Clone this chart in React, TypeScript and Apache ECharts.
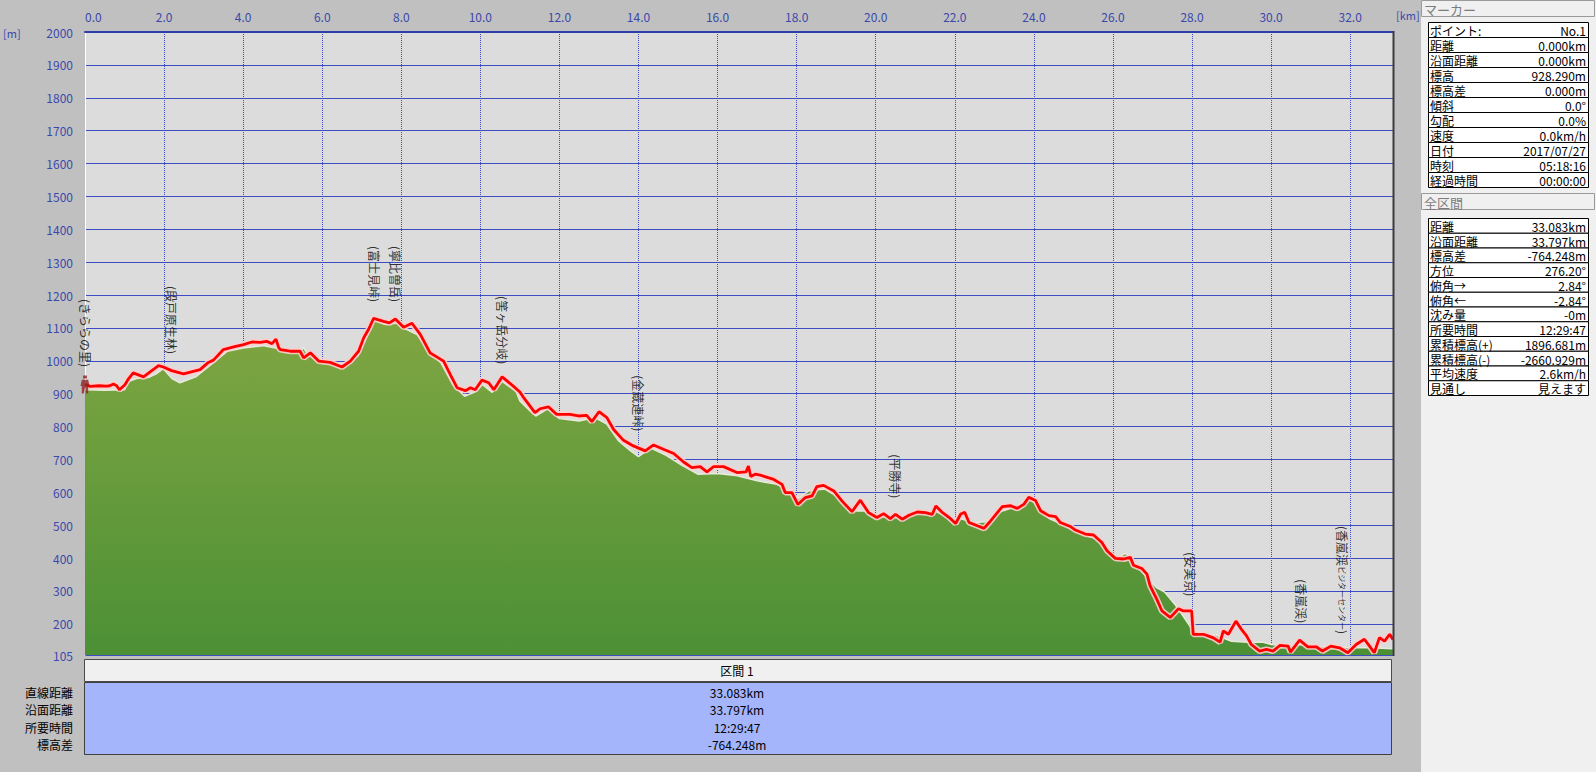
import React, { useEffect, useRef } from 'react';
import * as echarts from 'echarts';

// ---- track (GPS) elevation profile ----
const trackKm = [
  0.00, 0.13, 0.35, 0.55, 0.63, 0.72, 0.80, 0.87, 1.01, 1.10, 1.22, 1.35, 1.48, 1.69, 1.86, 1.98,
  2.19, 2.49, 2.74, 2.91, 3.12, 3.25, 3.50, 3.76, 4.01, 4.22, 4.43, 4.60, 4.73, 4.83, 4.90, 4.94,
  5.19, 5.44, 5.53, 5.70, 5.91, 6.20, 6.50, 6.71, 6.92, 7.05, 7.17, 7.30, 7.55, 7.70, 7.85, 8.06,
  8.27, 8.48, 8.73, 9.07, 9.24, 9.41, 9.62, 9.75, 9.87, 10.04, 10.21, 10.34, 10.55, 10.84, 11.00, 11.10,
  11.38, 11.51, 11.72, 11.93, 12.27, 12.48, 12.69, 12.82, 13.00, 13.20, 13.37, 13.62, 13.87, 14.17, 14.38, 14.63,
  14.89, 15.14, 15.35, 15.56, 15.73, 15.90, 16.15, 16.49, 16.72, 16.78, 16.84, 16.95, 17.08, 17.42, 17.63, 17.71,
  17.88, 18.03, 18.22, 18.39, 18.51, 18.68, 18.94, 19.15, 19.40, 19.61, 19.82, 20.03, 20.20, 20.37, 20.50, 20.67,
  20.84, 21.05, 21.26, 21.43, 21.52, 21.69, 21.86, 22.02, 22.15, 22.25, 22.36, 22.57, 22.74, 22.87, 23.08, 23.20,
  23.41, 23.58, 23.75, 23.87, 24.04, 24.17, 24.38, 24.55, 24.67, 24.92, 25.05, 25.30, 25.51, 25.72, 25.85, 26.06,
  26.27, 26.44, 26.52, 26.73, 26.86, 26.94, 27.11, 27.24, 27.45, 27.66, 27.78, 27.99, 28.03, 28.29, 28.54, 28.71,
  28.79, 28.92, 29.11, 29.25, 29.38, 29.50, 29.71, 29.88, 30.05, 30.22, 30.43, 30.49, 30.72, 30.93, 31.14, 31.30,
  31.51, 31.73, 31.94, 32.15, 32.36, 32.49, 32.61, 32.74, 32.87, 33.00, 33.08,
];
const trackElev = [
  928, 922, 924, 923, 924, 929, 924, 912, 927, 945, 963, 957, 951, 970, 985, 981,
  970, 960, 968, 973, 995, 1002, 1034, 1042, 1049, 1057, 1056, 1059, 1052, 1066, 1040, 1034,
  1029, 1029, 1009, 1024, 999, 995, 981, 999, 1029, 1070, 1095, 1129, 1120, 1115, 1127, 1102,
  1114, 1080, 1024, 999, 958, 918, 909, 918, 912, 941, 933, 912, 951, 922, 905, 887,
  842, 854, 860, 837, 837, 832, 834, 815, 845, 827, 791, 758, 741, 726, 744, 731,
  718, 692, 675, 678, 662, 678, 678, 660, 662, 680, 648, 655, 652, 639, 624, 599,
  599, 563, 584, 589, 617, 621, 604, 573, 541, 576, 538, 523, 535, 520, 533, 518,
  530, 540, 538, 533, 558, 538, 523, 505, 534, 539, 508, 498, 490, 508, 539, 556,
  559, 551, 564, 585, 575, 544, 529, 526, 508, 496, 485, 473, 470, 447, 422, 399,
  397, 402, 378, 368, 351, 315, 274, 239, 219, 246, 239, 239, 168, 168, 157, 144,
  178, 168, 208, 183, 163, 137, 117, 122, 117, 134, 132, 114, 150, 130, 130, 117,
  132, 127, 112, 137, 153, 132, 112, 158, 147, 168, 152,
];

// ---- terrain (map) elevation profile ----
const terrainKm = [
  0.00, 0.50, 1.00, 1.10, 1.30, 1.60, 1.80, 1.98, 2.20, 2.40, 2.80, 3.20, 3.60, 4.00, 4.50, 5.00,
  5.45, 5.53, 5.60, 6.00, 6.50, 6.90, 7.10, 7.30, 7.60, 7.90, 8.10, 8.40, 8.70, 9.00, 9.30, 9.60,
  9.90, 10.05, 10.30, 10.55, 10.90, 11.00, 11.27, 11.40, 11.70, 12.00, 12.50, 12.90, 13.20, 13.50, 13.80, 14.00,
  14.30, 14.70, 15.10, 15.50, 16.00, 16.50, 17.00, 17.50, 17.90, 18.05, 18.30, 18.70, 19.00, 19.40, 19.70, 20.00,
  20.50, 21.00, 21.50, 22.00, 22.15, 22.50, 22.80, 23.10, 23.50, 23.90, 24.10, 24.40, 24.80, 25.20, 25.60, 25.90,
  26.10, 26.30, 26.45, 26.60, 26.90, 27.10, 27.30, 27.60, 27.80, 28.00, 28.30, 28.60, 29.00, 29.40, 29.80, 30.00,
  30.40, 30.80, 31.20, 31.60, 32.00, 32.50, 33.08,
];
const terrainElev = [
  912, 910, 912, 937, 946, 949, 960, 976, 946, 933, 951, 990, 1029, 1039, 1046, 1034,
  1029, 1040, 1025, 1004, 989, 1014, 1064, 1123, 1110, 1115, 1097, 1080, 1029, 994, 928, 892,
  907, 928, 904, 937, 907, 878, 846, 832, 854, 824, 817, 827, 807, 756, 726, 708,
  735, 712, 682, 655, 657, 650, 635, 624, 599, 581, 604, 610, 589, 543, 543, 528,
  523, 533, 543, 513, 519, 508, 510, 539, 554, 580, 559, 519, 498, 473, 458, 427,
  397, 414, 405, 376, 336, 310, 297, 254, 219, 183, 168, 166, 147, 144, 144, 137,
  132, 137, 130, 132, 127, 127, 124,
];

// ---- waypoints ----
const waypointNames = ['きららの里', '段戸原生林', '富士見峠', '寧比曽岳', '筈ヶ岳分岐', '金蔵連峠', '平勝寺', '安実京', '香嵐渓', '香嵐渓ビジターセンター'];
const waypointKm = [0.0, 2.2, 7.31, 7.86, 10.55, 14.0, 20.5, 27.95, 30.76, 31.8];
const waypointLabelElev = [979, 1019, 1177, 1177, 988, 784, 580, 282, 200, 167];
const startKm = 0;
const startElev = 928;

// ---- axes ----
const xMin = 0;
const xMax = 33.083;
const xInterval = 2;
const yMin = 105;
const yMax = 2000;
const yTickValues = [105, 200, 300, 400, 500, 600, 700, 800, 900, 1000, 1100, 1200, 1300, 1400, 1500, 1600, 1700, 1800, 1900, 2000];
const yUnit = '[m]';
const xUnit = '[km]';

// ---- side panel ----
const markerTitle = 'マーカー';
const markerLabels = ['ポイント:', '距離', '沿面距離', '標高', '標高差', '傾斜', '勾配', '速度', '日付', '時刻', '経過時間'];
const markerValues = ['No.1', '0.000km', '0.000km', '928.290m', '0.000m', '0.0°', '0.0%', '0.0km/h', '2017/07/27', '05:18:16', '00:00:00'];
const totalTitle = '全区間';
const totalLabels = ['距離', '沿面距離', '標高差', '方位', '俯角→', '俯角←', '沈み量', '所要時間', '累積標高(+)', '累積標高(-)', '平均速度', '見通し'];
const totalValues = ['33.083km', '33.797km', '-764.248m', '276.20°', '2.84°', '-2.84°', '-0m', '12:29:47', '1896.681m', '-2660.929m', '2.6km/h', '見えます'];

// ---- bottom section table ----
const sectionTitle = '区間 1';
const sectionLabels = ['直線距離', '沿面距離', '所要時間', '標高差'];
const sectionValues = ['33.083km', '33.797km', '12:29:47', '-764.248m'];

const FONT = '"Noto Sans CJK JP", "Noto Sans", sans-serif';
const AXIS_BLUE = '#3a48ac';
const GRID_BLUE = '#3d4cc4';

// waypoint name -> single-line rich label (drawn rotated so it reads top-to-bottom)
function rotatedLabel(name: string): string {
  const m = name.match(/^([^\u30A0-\u30FF]+)([\u30A0-\u30FF]{4,})$/);
  if (m) return `{c|(${m[1]}}{k|${m[2]}}{c|)}`;
  return `{c|(${name})}`;
}

function buildGraphics(): any[] {
  const g: any[] = [];
  // units
  g.push({ type: 'text', left: 3, top: 27, style: { text: yUnit, fill: AXIS_BLUE, font: `11px ${FONT}` } });
  g.push({ type: 'text', left: 1396, top: 9, style: { text: xUnit, fill: AXIS_BLUE, font: `11px ${FONT}` }, z: 20 });
  // right border of plot
  g.push({ type: 'line', shape: { x1: 1393.5, y1: 31, x2: 1393.5, y2: 656 }, style: { stroke: '#3a3a3a', lineWidth: 2 }, z: 10 });

  // right panel
  const px = 1421;
  g.push({ type: 'rect', shape: { x: px, y: 0, width: 1596 - px, height: 772 }, style: { fill: '#f0f0f0' }, z: 1 });
  const header = (title: string, y: number) => {
    g.push({ type: 'rect', shape: { x: px + 0.5, y: y + 0.5, width: 173, height: 16 }, style: { fill: '#f0f0f0', stroke: '#9a9a9a', lineWidth: 1 }, z: 2 });
    g.push({ type: 'text', x: px + 3, y: y + 9, style: { text: title, fill: '#7c7c7c', font: `13px ${FONT}`, verticalAlign: 'middle' }, z: 3 });
  };
  const table = (labels: string[], values: string[], y0: number, rh: number) => {
    labels.forEach((lab, i) => {
      const y = y0 + rh * i;
      g.push({ type: 'rect', shape: { x: 1428.5, y: y + 0.5, width: 160, height: rh }, style: { fill: '#ffffff', stroke: '#000000', lineWidth: 1 }, z: 2 });
      g.push({ type: 'text', x: 1430, y: y + rh / 2 + 1, style: { text: lab, fill: '#000', font: `12px ${FONT}`, verticalAlign: 'middle' }, z: 3 });
      g.push({ type: 'text', x: 1586, y: y + rh / 2 + 1, style: { text: values[i], fill: '#000', font: `12px ${FONT}`, verticalAlign: 'middle', align: 'right' }, z: 3 });
    });
  };
  header(markerTitle, 0);
  table(markerLabels, markerValues, 22, 15);
  header(totalTitle, 193);
  table(totalLabels, totalValues, 218, 14.75);

  // bottom section table
  g.push({ type: 'rect', shape: { x: 84.5, y: 659.5, width: 1307, height: 22 }, style: { fill: '#f0f0f0', stroke: '#4a4a4a', lineWidth: 1 }, z: 2 });
  g.push({ type: 'text', x: 737, y: 670.5, style: { text: sectionTitle, fill: '#000', font: `12px ${FONT}`, align: 'center', verticalAlign: 'middle' }, z: 3 });
  g.push({ type: 'rect', shape: { x: 84.5, y: 682.5, width: 1307, height: 72 }, style: { fill: '#a5b5fc', stroke: '#404040', lineWidth: 1 }, z: 2 });
  sectionLabels.forEach((lab, i) => {
    const y = 692 + 17.6 * i;
    g.push({ type: 'text', x: 73, y, style: { text: lab, fill: '#000', font: `12px ${FONT}`, align: 'right', verticalAlign: 'middle' }, z: 3 });
    g.push({ type: 'text', x: 737, y, style: { text: sectionValues[i], fill: '#000', font: `12px ${FONT}`, align: 'center', verticalAlign: 'middle' }, z: 3 });
  });
  return g;
}

export default function App() {
  const ref = useRef<HTMLDivElement>(null);
  useEffect(() => {
    if (!ref.current) return;
    const chart = echarts.init(ref.current, null, { renderer: 'svg' });
    const trackData = trackKm.map((k, i) => [k, trackElev[i]]);
    const terrainData = terrainKm.map((k, i) => [k, terrainElev[i]]);
    const wpData = waypointKm.map((k, i) => ({ value: [k, waypointLabelElev[i]], name: waypointNames[i] }));

    chart.setOption({
      animation: false,
      backgroundColor: '#c0c0c0',
      textStyle: { fontFamily: FONT },
      grid: {
        left: 85, top: 32, width: 1308, height: 623,
        show: true, backgroundColor: '#dcdcdc', borderWidth: 0,
      },
      xAxis: {
        type: 'value', position: 'top', min: xMin, max: xMax, interval: xInterval,
        axisLine: { show: true, lineStyle: { color: '#2d3ea6', width: 2 } },
        axisTick: { show: false },
        axisLabel: {
          color: AXIS_BLUE, fontSize: 12, fontFamily: FONT, margin: 10,
          formatter: (v: number) => v.toFixed(1),
          showMaxLabel: false, alignMinLabel: 'left',
        },
        splitLine: { show: true, lineStyle: { color: GRID_BLUE, width: 1, type: [1, 1] } },
      },
      yAxis: {
        type: 'value', min: yMin, max: yMax,
        axisLine: { show: true, lineStyle: { color: '#ffffff', width: 1 } },
        axisTick: { show: false, customValues: yTickValues },
        axisLabel: {
          color: AXIS_BLUE, fontSize: 12, fontFamily: FONT, margin: 12, customValues: yTickValues,
          formatter: (v: number) => String(Math.round(v)),
        },
        splitLine: { show: true, lineStyle: { color: GRID_BLUE, width: 1 } },
      },
      series: [
        {
          type: 'line', data: terrainData, showSymbol: false, silent: true, z: 2,
          lineStyle: { color: '#e6ebdc', width: 1.5 },
          areaStyle: {
            origin: 'start', opacity: 1,
            color: new echarts.graphic.LinearGradient(0, 0, 0, 1, [
              { offset: 0, color: '#80a642' },
              { offset: 1, color: '#4c9035' },
            ]),
          },
        },
        {
          type: 'line', data: trackData, showSymbol: false, silent: true, z: 3,
          lineStyle: { color: 'rgba(255,205,205,0.9)', width: 6 },
        },
        {
          type: 'line', data: trackData, showSymbol: false, silent: true, z: 4,
          lineStyle: { color: '#ff0000', width: 2.8 },
        },
        {
          type: 'scatter', data: [[startKm, startElev]], silent: true, z: 5,
          symbol: 'path://M3,0 L6,0 L6,3 L3,3 Z M2,4 L7,4 L8,10 L7,10 L7,17 L5.5,17 L4.5,11 L3.5,17 L2,17 L2,10 L1,10 Z',
          symbolSize: [9, 18],
          itemStyle: { color: '#8e2020' },
        },
        {
          type: 'scatter', data: wpData, silent: true, z: 6,
          symbolSize: 1, itemStyle: { color: 'rgba(0,0,0,0)' },
          label: {
            show: true, position: 'top', distance: 0, rotate: -90,
            align: 'right', verticalAlign: 'middle',
            formatter: (p: any) => rotatedLabel(p.name),
            rich: {
              c: { fontSize: 12, color: '#000', fontFamily: FONT },
              k: { fontSize: 8, color: '#000', fontFamily: FONT },
            },
          },
        },
      ],
      graphic: buildGraphics(),
    });
    return () => chart.dispose();
  }, []);
  return <div ref={ref} style={{ position: 'fixed', left: 0, top: 0, width: 1596, height: 772 }} />;
}
